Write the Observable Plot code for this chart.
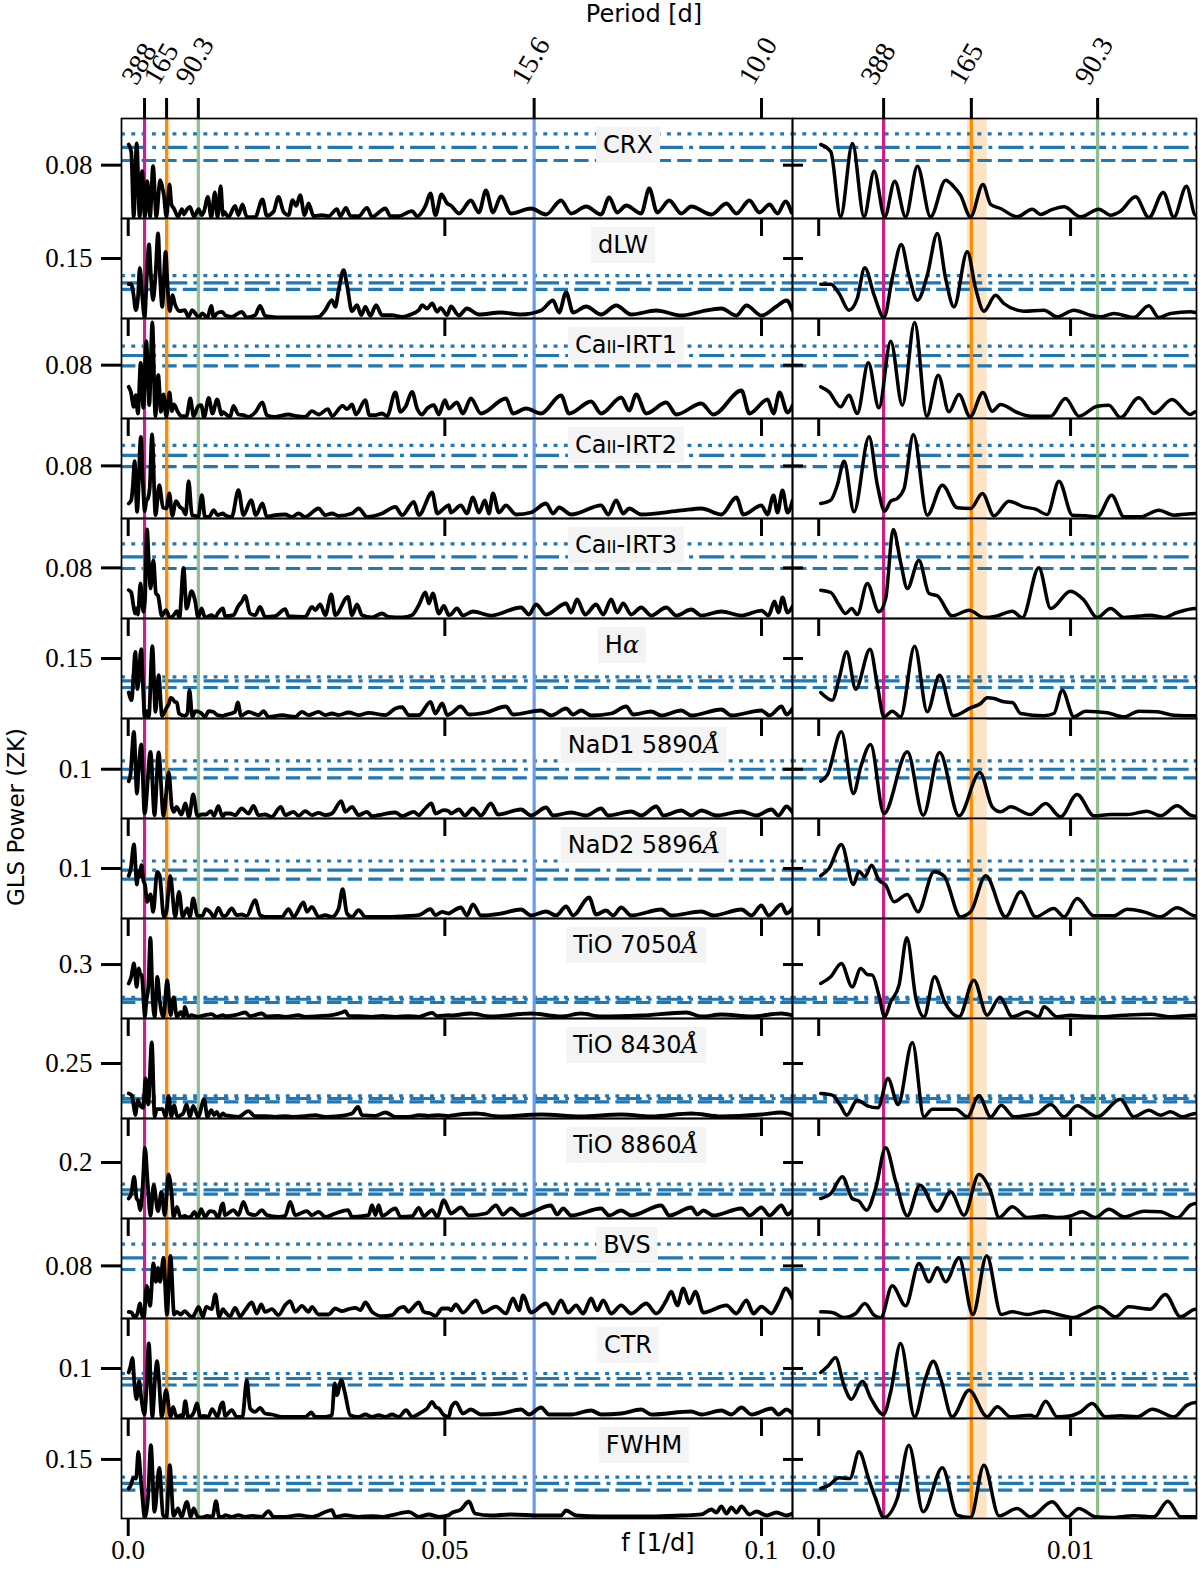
<!DOCTYPE html>
<html><head><meta charset="utf-8">
<script src="https://cdn.jsdelivr.net/npm/d3@7"></script>
<script src="https://cdn.jsdelivr.net/npm/@observablehq/plot@0.6"></script>
<style>
body{margin:0;background:#fff;}
#fig{position:relative;width:1200px;height:1570px;overflow:hidden;font-family:"DejaVu Sans",sans-serif;color:#000;}
#fig svg{position:absolute;overflow:visible;}
.lbl{position:absolute;background:#f4f4f4;height:36px;line-height:36px;padding:0 7px;font-size:24px;white-space:nowrap;transform:translateX(-50%);}
.sc{font-size:17px;}
.mi{font-family:"DejaVu Serif",serif;font-style:italic;}
.ax{position:absolute;font-size:24px;white-space:nowrap;}
</style></head><body><div id="fig"></div>
<script>
// ---------------- data: frequency [1/d] and GLS power per indicator ----------------
const crxF=[0.00008,0.00048,0.00087,0.00134,0.0018,0.0022,0.00262,0.00302,0.00345,0.00392,0.00444,0.00504,0.00537,0.00563,0.00603,0.00652,0.00683,0.00722,0.00788,0.00848,0.00881,0.00921,0.00974,0.0104,0.01112,0.01159,0.01198,0.01258,0.01311,0.01368,0.0141,0.0146,0.01496,
0.01519,0.01582,0.01688,0.0174,0.01804,0.01872,0.02004,0.0212,0.02189,0.02294,0.02373,0.02453,0.02532,0.02595,0.02653,0.02716,0.02785,0.02848,0.02927,0.03059,0.03165,0.03296,0.03349,0.03439,0.03507,0.03639,0.03771,0.0385,0.04061,0.0414,0.04272,0.04483,0.04562,0.04694,0.04773,0.04852,0.04947,0.05037,
0.05095,0.05222,0.05411,0.05538,0.05649,0.0576,0.05886,0.06044,0.06361,0.06598,0.06835,0.06994,0.07231,0.07468,0.07595,0.07722,0.07864,0.08101,0.08228,0.08354,0.08544,0.08734,0.08892,0.09209,0.09446,0.09604,0.0981,0.09968,0.10127,0.10253,0.1038,0.10475];
const crxP=[0.111,0.100,0.0025,0.1125,0.0025,0.071,0.0025,0.056,0.0025,0.0785,0.0025,0.0575,0.0475,0.035,0.0025,0.051,0.021,0.015,0.0025,0.014,0.006,0.0125,0.0175,0.0025,0.014,0.005,0.011,0.0325,0.0015,0.039,0.002,0.0485,0.005,
0.01,0.002,0.019,0.005,0.021,0.0025,0.002,0.0285,0.004,0.01,0.0325,0.01,0.005,0.0275,0.019,0.035,0.005,0.0225,0.0035,0.005,0.0035,0.014,0.0035,0.016,0.004,0.0035,0.016,0.0025,0.015,0.0035,0.0035,0.011,0.0035,0.019,0.0375,0.005,0.036,0.0225,
0.0195,0.0075,0.027,0.009,0.042,0.009,0.033,0.0075,0.015,0.006,0.027,0.0075,0.018,0.006,0.0315,0.009,0.0195,0.0075,0.045,0.009,0.027,0.0075,0.018,0.006,0.0225,0.0075,0.027,0.009,0.021,0.0075,0.0255,0.009];

const dlwF=[.00008,.00048,.00081,.0012,.00153,.00183,.0022,.00259,.00292,.00328,.00358,.00392,.00431,.00471,.00504,.00537,.0059,.00623,.00656,.00702,.00735,.00788,.00815,.00894,.00947,.01013,.01079,.01119,.01172,.01251,.01311,.0135,.01397,.01476,.01496,
.0153,.01635,.01793,.01872,.02004,.02083,.02162,.02268,.02373,.02584,.02795,.03006,.03112,.03217,.0327,.03323,.03402,.03455,.03534,.03613,.03681,.03745,.03824,.03914,.04008,.04167,.04325,.0443,.04589,.04641,.0472,.048,.04879,.04931,.05037,
.05095,.05222,.05348,.05538,.05886,.06203,.06519,.06709,.06804,.06915,.07025,.07231,.07468,.07706,.07943,.08339,.08734,.09051,.09367,.09604,.09763,.1,.10237,.10396,.10491];
const dlwP=[.0858,.0858,.0625,.0208,.05,.1267,.0583,.0025,.1,.185,.108,.0458,.108,.2125,.1,.029,.1667,.075,.0183,.0583,.0375,.0208,.0183,.0208,.0042,.0208,.0083,.0042,.0125,.0025,.0317,.0025,.0125,.0167,.015,
.0083,.0042,.0167,.0025,.0083,.0317,.0067,.0042,.0025,.0025,.0025,.0042,.0208,.0458,.0292,.0708,.1208,.0833,.0183,.0333,.0083,.0292,.0067,.0333,.0083,.0083,.0042,.0083,.0208,.0333,.025,.0375,.0167,.0267,.0083,
.03,.0075,.025,.01,.015,.01,.02,.045,.015,.065,.015,.03,.01,.0325,.01,.02,.0075,.0175,.025,.0075,.0325,.0075,.03,.045,.02];

const irt1F=[.00008,.00041,.00087,.0012,.00153,.00197,.00239,.00286,.00332,.00381,.00429,.00475,.00517,.00557,.00601,.00652,.00689,.00722,.00788,.00841,.00921,.0098,.01033,.01106,.01152,.01198,.01271,.01331,.01403,.01476,.01496,
.0153,.01609,.01661,.0174,.0182,.01899,.02004,.0212,.02189,.02321,.02532,.02637,.02795,.02901,.03006,.03154,.03217,.03386,.03455,.03534,.03597,.03745,.03808,.03903,.04008,.04087,.04219,.04299,.04378,.04483,.04562,.04641,.0472,.04826,.04905,.05,.05063,
.0519,.05285,.05411,.0557,.05965,.06076,.06282,.06519,.06835,.06962,.0731,.07468,.07785,.07911,.08022,.0818,.08497,.08655,.09051,.09241,.09684,.0981,.10095,.1019,.10285,.10411,.10491];
const irt1P=[.0475,.04,.0175,.035,.0075,.0835,.016,.116,.02,.144,.0035,.065,.01,.036,.0025,.039,.011,.021,.009,.0035,.0035,.03,.0035,.0185,.02,.0015,.031,.0075,.0285,.006,.01,
.0075,.0025,.019,.006,.005,.0025,.009,.024,.005,.0025,.006,.004,.0025,.011,.006,.014,.0035,.019,.014,.021,.006,.0275,.005,.005,.0075,.0035,.039,.01,.0175,.04,.015,.006,.015,.02,.006,.0275,.015,
.024,.0075,.03,.0075,.03,.0075,.015,.0075,.0345,.0075,.0255,.0075,.0315,.012,.036,.0075,.024,.006,.0225,.006,.042,.0075,.0285,.0075,.039,.009,.0195];

const irt2F=[.00008,.00048,.00074,.00101,.0014,.002,.00233,.00262,.00286,.00312,.00339,.00376,.00431,.00491,.0055,.00603,.0065,.00696,.00755,.00815,.00861,.00907,.00954,.01007,.0106,.01106,.01163,.01212,.01278,.0135,.0141,.01496,
.0153,.01635,.0174,.0182,.01941,.02015,.0212,.02189,.02321,.02479,.02584,.0269,.02795,.03006,.03112,.03217,.03323,.03534,.03639,.03771,.04008,.04219,.04325,.0451,.04589,.048,.04879,.04984,.05063,
.05095,.05253,.05348,.05443,.05538,.05633,.05696,.0576,.05854,.05965,.06123,.06361,.06598,.06709,.06804,.06994,.07468,.07579,.07706,.07816,.07911,.08101,.08734,.09051,.09367,.09604,.09715,.1,.10095,.1019,.10253,.10332,.10411,.10491];
const irt2P=[.0228,.0279,.0507,.0872,.0101,.1242,.0507,.0112,.0264,.0304,.0456,.1278,.0051,.0507,.0162,.0152,.038,.0041,.0264,.0177,.0142,.0061,.0568,.0051,.0041,.0025,.0355,.0025,.0025,.0127,.0051,.0076,
.0051,.0025,.0431,.0051,.0279,.0051,.0228,.0025,.0051,.0061,.0025,.0076,.0025,.0152,.0051,.0076,.0041,.0076,.0152,.0025,.0076,.0177,.0051,.0254,.0051,.0395,.0076,.0152,.0203,
.0091,.0198,.0076,.0319,.0091,.0274,.0076,.038,.0091,.0198,.0061,.0091,.0228,.0076,.0167,.0061,.0198,.0061,.0274,.0076,.0152,.0061,.0122,.0152,.0061,.0319,.0061,.0198,.0061,.035,.0091,.0426,.0091,.0274];

const irt3F=[.00008,.00048,.00081,.00107,.00131,.00153,.00193,.00239,.00266,.00296,.00325,.00352,.00398,.00438,.00471,.0053,.00597,.00656,.00709,.00769,.00808,.00874,.00921,.01,.01053,.01106,.01159,.01212,.01317,.0137,.01423,.01496,
.0153,.01661,.0174,.01793,.01846,.01925,.02004,.02083,.02162,.02321,.02479,.02532,.02795,.02901,.02954,.03033,.03112,.03207,.0327,.0347,.03534,.03613,.03692,.0385,.04008,.04114,.04325,.04483,.04589,.04694,.04747,.0481,.04905,.04984,.05063,
.05095,.0519,.05285,.05443,.05728,.06203,.06329,.0644,.06598,.06915,.06994,.07089,.07215,.07389,.075,.07627,.07722,.07816,.07943,.08101,.0826,.08497,.08655,.08892,.09051,.09367,.09684,.1,.10111,.10206,.10269,.10332,.10411,.10491];
const irt3P=[.0448,.0411,.0211,.0079,.0158,.0063,.0553,.0105,.0316,.1407,.0896,.0474,.0922,.0395,.0358,.0042,.0132,.0016,.0042,.0116,.0011,.0801,.0158,.0432,.029,.0016,.0158,.0016,.0053,.0016,.0095,.0158,
.0037,.0053,.02,.0264,.0358,.0079,.0053,.0184,.0026,.0037,.0148,.0037,.0026,.0184,.0132,.0221,.0053,.0379,.0053,.0343,.0053,.0221,.0053,.0016,.0079,.0026,.0016,.0053,.0211,.0411,.0237,.0395,.0079,.02,.0053,
.0063,.0158,.0047,.0111,.0047,.0174,.0063,.0221,.0063,.0237,.0095,.03,.0063,.0221,.0063,.03,.0095,.0237,.0063,.0174,.0047,.0174,.0047,.0142,.0047,.0111,.0047,.0126,.0047,.0269,.0095,.0332,.0095,.019];

const haF=[.00008,.00054,.00081,.00111,.00147,.00204,.00233,.00259,.00292,.00325,.00381,.00431,.0048,.00534,.00603,.00643,.00669,.00696,.00735,.00769,.00802,.00894,.00934,.00967,.01013,.0106,.01146,.01212,.01271,.01344,.0141,.01496,
.0153,.01688,.0173,.01783,.01899,.02057,.02136,.02215,.02426,.02637,.02743,.02848,.03006,.03112,.03217,.03323,.03481,.03639,.03797,.04061,.04219,.04325,.0443,.04589,.04773,.04852,.04958,.05037,
.05095,.05253,.0538,.05649,.05965,.06076,.06519,.06677,.06915,.07025,.07152,.0731,.07627,.07864,.07975,.0826,.08418,.08734,.08892,.09367,.09525,.1,.10127,.10316,.10396,.10491];
const haP=[.065,.0458,.1,.1667,.0733,.1733,.0833,.0042,.0183,.0042,.1808,.0167,.1083,.0067,.0267,.0375,.0517,.05,.0417,.04,.0125,.0067,.0125,.0708,.0042,.0183,.0142,.0042,.0183,.0167,.0083,.0067,
.0083,.0167,.04,.0067,.0167,.0083,.0183,.0042,.0083,.0042,.0167,.0083,.0167,.0083,.0125,.0083,.015,.0083,.0142,.0083,.025,.0283,.0083,.0083,.0417,.0125,.0375,.0083,
.0125,.03,.01,.015,.03,.01,.02,.0075,.025,.01,.02,.0075,.0125,.03,.01,.0175,.0075,.02,.0075,.0225,.0075,.02,.0075,.03,.01,.025];

const nad1F=[.00008,.00034,.0009,.00138,.00167,.00206,.00259,.00352,.00415,.0048,.00557,.0064,.00689,.00722,.00762,.00841,.00901,.0096,.01026,.01093,.01159,.01225,.01304,.01357,.01423,.01476,.01496,
.0153,.01609,.01688,.01793,.01899,.01978,.02057,.02162,.02268,.0241,.02479,.02611,.0269,.02795,.02901,.03006,.03112,.03217,.03365,.03428,.03534,.03639,.03771,.0385,.04008,.04219,.04325,.0451,.04589,.04668,.04789,.04852,.04984,.05063,
.05095,.05222,.05316,.05443,.0557,.05728,.05839,.06203,.06361,.06598,.06709,.06994,.07231,.07468,.07579,.07943,.08101,.08339,.0845,.08734,.08892,.09051,.09288,.09684,.09921,.10158,.10269,.10396,.10491];
const nad1P=[.0758,.088,.176,.0508,.1049,.1503,.0102,.1354,.0068,.134,.0054,.0934,.0237,.0135,.0237,.0081,.0305,.0034,.0487,.0054,.0081,.0081,.0149,.0054,.0257,.0068,.0047,
.0102,.0102,.0068,.0203,.0102,.0257,.0068,.0081,.0034,.0237,.0068,.0135,.0054,.0149,.0068,.0115,.0068,.0102,.0352,.0135,.0237,.0068,.0135,.0047,.0081,.0122,.0047,.0135,.0068,.0169,.0305,.0102,.0169,.0149,
.0102,.0183,.0061,.0203,.0061,.0305,.0081,.0183,.0061,.0223,.0061,.0122,.0061,.0203,.0061,.0142,.0061,.0244,.0061,.0162,.0061,.0162,.0061,.0142,.0061,.0183,.0061,.0244,.0122];

const nad2F=[.00008,.00041,.0009,.00138,.0016,.00183,.0021,.00239,.00266,.00299,.00352,.00394,.00458,.00497,.00563,.00603,.00663,.00742,.00802,.00861,.00934,.00974,.01026,.01093,.01172,.01225,.01291,.01357,.01423,.01496,
.0153,.01635,.01714,.01793,.01872,.02004,.02083,.02162,.02321,.02426,.02532,.02611,.02769,.02822,.02901,.03006,.03112,.03217,.03323,.03386,.03455,.03534,.03639,.03745,.03956,.04167,.04378,.04589,.04773,.04852,.04958,.05063,
.05095,.05253,.05348,.05443,.0557,.05886,.06203,.06361,.06598,.06756,.06915,.07025,.07278,.07389,.07547,.07658,.07785,.07943,.08418,.08576,.09051,.09241,.09684,.09842,.1,.10111,.10316,.10396,.10491];
const nad2P=[.0854,.1,.148,.068,.0947,.0834,.1067,.0767,.0667,.0334,.048,.0133,.0934,.0854,.0033,.0133,.0854,.0033,.0534,.0033,.02,.0033,.04,.0053,.0053,.0187,.0133,.0033,.0213,.0053,
.0053,.02,.0067,.008,.0053,.0367,.0067,.0033,.0033,.0033,.0187,.0033,.032,.0133,.0234,.0033,.0067,.0033,.02,.0587,.01,.0033,.0167,.0033,.0033,.0033,.0047,.0067,.0187,.0067,.0133,.01,
.012,.022,.006,.028,.006,.01,.018,.006,.014,.006,.024,.006,.042,.008,.016,.006,.022,.006,.018,.006,.014,.006,.018,.006,.026,.006,.028,.01,.02];

const tio7050F=[.00008,.00048,.0009,.00133,.00167,.00193,.00213,.00239,.00262,.00286,.00319,.0035,.00386,.00418,.0046,.005,.00557,.00616,.00669,.00719,.00769,.00828,.00874,.00894,.00947,.01,.01053,.01106,.01212,.01317,.01397,.01496,
.0153,.01688,.01846,.01925,.0211,.02189,.02373,.02479,.0269,.02795,.03006,.03217,.03376,.03428,.03481,.03639,.0385,.04008,.04219,.0443,.04589,.048,.04879,.05063,
.05095,.05411,.05728,.06361,.06835,.07152,.07468,.08101,.08813,.09051,.09367,.09842,.10316,.10491];
const tio7050P=[.1946,.2316,.3057,.176,.278,.2446,.2409,.1297,.0093,.0927,.1853,.4484,.1112,.0093,.2316,.0927,.0093,.2131,.0185,.1167,.0093,.0371,.0093,.0649,.0093,.0185,.013,.0093,.0185,.0241,.0093,.0185,
.013,.0185,.0334,.013,.0278,.0111,.0148,.0093,.0185,.0093,.013,.0185,.0334,.0408,.0148,.013,.0093,.0148,.0093,.013,.0093,.0315,.013,.0185,
.0167,.0278,.0111,.0278,.0111,.0278,.0111,.0167,.0334,.0111,.0222,.0111,.0278,.0167];

const tio8430F=[.00008,.00054,.00087,.00111,.00153,.00193,.00235,.00275,.00315,.00372,.00418,.00451,.00511,.00544,.0059,.00636,.00683,.00725,.00775,.00828,.00868,.00921,.00974,.01026,.01106,.01198,.01251,.01311,.01357,.01397,.01443,.01496,
.0153,.01635,.0174,.01899,.02004,.02162,.02321,.02479,.02584,.02795,.02954,.03112,.03323,.03534,.03629,.03692,.03903,.04061,.04219,.0443,.04589,.04747,.04905,.05063,
.05095,.05491,.05886,.06519,.07152,.07785,.0826,.08892,.09367,.1,.10316,.10491];
const tio8430P=[.1136,.1061,.0576,.0152,.0833,.0576,.0485,.1818,.0636,.3454,.0076,.0424,.0424,.0424,.0076,.103,.0076,.0606,.0076,.0152,.0227,.0636,.0076,.0576,.0076,.0879,.0076,.0379,.0152,.0303,.0076,.0227,
.0152,.0106,.0076,.0333,.0106,.0106,.0076,.0106,.0076,.0106,.0152,.0076,.0106,.0227,.053,.0152,.0121,.0273,.0076,.0076,.0152,.0121,.0152,.0106,
.0136,.0227,.0091,.0182,.0091,.0182,.0091,.0227,.0091,.0182,.0273,.0136];

const tio8860F=[.00008,.00048,.00094,.00133,.0016,.0019,.00226,.00266,.00306,.00352,.00402,.00471,.00524,.00577,.00636,.00683,.00716,.00769,.00828,.00894,.00947,.01,.01046,.01099,.01152,.01212,.01291,.01357,.01423,.01476,.01496,
.0153,.01661,.0174,.01819,.01899,.02004,.0211,.02189,.02373,.02479,.02558,.02637,.02822,.02901,.03006,.03112,.0327,.0347,.03534,.03797,.0385,.03903,.03956,.04008,.04219,.04299,.04483,.04589,.04668,.048,.04879,.04984,.05063,
.05095,.05253,.0538,.05649,.05807,.05918,.06044,.06203,.06677,.06772,.06867,.06994,.07468,.07595,.07785,.07943,.08418,.08544,.08892,.08987,.09082,.0924,.09684,.0981,.1,.10127,.10316,.10411,.10491];
const tio8860P=[.0714,.0893,.1488,.0714,.0619,.0298,.1071,.2523,.1309,.0095,.119,.0262,.0952,.0119,.1571,.0952,.0036,.0417,.0036,.0095,.0036,.0095,.0238,.0036,.0333,.006,.0262,.0238,.0024,.0476,.0536,
.0119,.0298,.0119,.0595,.0179,.0119,.0298,.0119,.006,.0095,.0595,.0119,.0262,.0119,.0238,.006,.0179,.0298,.006,.0119,.0476,.0119,.0476,.0095,.0357,.006,.0083,.0381,.0083,.0298,.006,.0655,.0298,
.0179,.0393,.0107,.0179,.0464,.0143,.0357,.0107,.0464,.0143,.0357,.0107,.0357,.0107,.0286,.0107,.0464,.0107,.0393,.0143,.0286,.0107,.0357,.0107,.0393,.0107,.0464,.0143,.0286];

const bvsF=[.00008,.00054,.001,.00147,.00183,.0022,.00246,.00292,.00345,.00398,.00438,.00471,.00504,.00557,.00612,.00667,.00725,.00769,.00828,.00894,.0096,.01013,.01053,.01112,.01179,.01231,.01317,.01376,.01437,.01496,
.0153,.01609,.01688,.01767,.01846,.01952,.02031,.021,.02162,.02268,.02373,.02479,.02558,.02637,.02743,.02848,.02901,.03006,.03165,.0327,.03376,.03481,.03586,.03666,.03745,.0385,.04008,.04167,.04272,.04351,.0443,.04483,.04589,.04668,.04773,.04852,.04958,.05063,
.05095,.05174,.05285,.05491,.05601,.05807,.05965,.06076,.06171,.06234,.06361,.06598,.06709,.06835,.06946,.07073,.07184,.0731,.07405,.075,.07627,.07785,.07943,.0818,.08339,.08497,.08576,.08671,.08766,.08861,.08956,.09082,.09446,.09604,.09763,.09873,.1,.10158,.10285,.1038,.10491];
const bvsP=[.0101,.0091,.0015,.0076,.0228,.0051,.001,.0497,.0193,.0837,.0558,.0771,.0558,.0923,.0061,.0953,.0061,.0101,.0061,.0112,.0051,.0015,.0076,.0177,.0025,.0177,.0142,.0365,.0025,.0142,
.0101,.0035,.0162,.0035,.0127,.0243,.0076,.0213,.0101,.0142,.0051,.0203,.0264,.0101,.0193,.0101,.0177,.0061,.0061,.0152,.0112,.0142,.0162,.0127,.0243,.0101,.0035,.0051,.0152,.0177,.0101,.0152,.0243,.0101,.0076,.0041,.0152,.0152,
.0122,.0213,.0091,.0274,.0091,.0182,.0076,.0304,.0122,.035,.0091,.0228,.0076,.0274,.0091,.0198,.0076,.0304,.0122,.0274,.0076,.0198,.0076,.0228,.0076,.0274,.041,.0198,.0456,.0228,.041,.0091,.0198,.0076,.0274,.0076,.0182,.0076,.0274,.0456,.0304];

const ctrF=[.00008,.00034,.00067,.001,.0013,.00173,.00206,.00257,.00286,.00325,.00381,.00424,.00455,.00484,.0053,.00597,.00669,.00709,.00762,.00841,.00861,.00901,.00947,.01,.0104,.01086,.01139,.01198,.01265,.01325,.01411,.01463,.01496,
.0153,.01635,.01714,.01804,.01872,.01925,.02004,.02083,.02162,.02268,.02426,.02637,.02795,.02891,.02954,.03112,.03217,.03259,.03296,.03365,.03418,.03507,.03639,.03745,.0385,.03956,.04061,.04167,.04272,.04388,.04483,.04641,.0472,.048,.04852,.04905,.04984,.05063,
.05095,.05174,.05285,.05411,.0557,.05886,.06203,.06329,.06519,.06646,.06994,.0731,.07468,.07785,.08101,.0826,.08892,.09051,.09367,.09525,.09684,.09842,.10158,.10269,.10396,.10491];
const ctrP=[.092,.1034,.1214,.0667,.0387,.0747,.0414,.008,.0534,.1501,.0033,.08,.1147,.08,.0033,.0567,.0033,.0233,.0033,.0067,.0033,.0347,.0033,.0053,.0133,.03,.0033,.0053,.0033,.0187,.0033,.0267,.032,
.0053,.0167,.0033,.0033,.0767,.02,.0133,.0213,.01,.008,.0033,.0033,.0033,.012,.0033,.0033,.0067,.0701,.0467,.0767,.0534,.0067,.0033,.008,.0033,.0067,.0033,.008,.0033,.0167,.0033,.0133,.02,.0334,.0234,.02,.0067,.0033,
.02,.032,.01,.018,.008,.01,.018,.008,.022,.008,.008,.016,.008,.01,.018,.008,.014,.008,.016,.008,.022,.008,.02,.008,.018,.01];

const fwhmF=[.00008,.00041,.00081,.00124,.0016,.002,.00226,.00259,.00312,.00358,.00415,.00491,.0055,.00603,.00656,.00716,.00788,.00841,.00927,.00987,.01033,.01099,.01159,.01251,.01331,.01386,.01437,.01496,
.0153,.01635,.0174,.01846,.01952,.0211,.02215,.02294,.02479,.0269,.02901,.03217,.0327,.03428,.03639,.0385,.04008,.04167,.0443,.04589,.04747,.04905,.05063,
.05095,.05253,.0538,.05475,.05728,.06044,.06519,.06835,.06915,.07073,.07468,.0826,.08734,.09051,.09209,.09288,.09367,.09446,.09525,.09604,.09684,.0981,.09921,.10079,.10237,.10396,.10491];
const fwhmP=[.0762,.0847,.1033,.1016,.1694,.0974,.0508,.0025,.0508,.1863,.0169,.1287,.0085,.0025,.1355,.0068,.0254,.0042,.0424,.0042,.0254,.0042,.0025,.0068,.0042,.044,.0042,.0042,
.0085,.0042,.0085,.0042,.0068,.0042,.0186,.0042,.0042,.0085,.0042,.0212,.0042,.0085,.0042,.0059,.0042,.0085,.0169,.0042,.0102,.0042,.0085,
.0127,.0229,.0432,.0127,.0076,.0102,.0076,.0076,.0203,.0076,.0051,.0051,.0076,.0102,.0229,.0152,.0305,.0127,.0279,.0152,.0305,.0102,.0178,.0076,.0152,.0076,.0127];

const rowNames=["CRX","dLW","Ca<span class='sc'>II</span>-IRT1","Ca<span class='sc'>II</span>-IRT2","Ca<span class='sc'>II</span>-IRT3",
 "H<span class='mi'>α</span>","NaD1 5890<span class='mi'>Å</span>","NaD2 5896<span class='mi'>Å</span>",
 "TiO 7050<span class='mi'>Å</span>","TiO 8430<span class='mi'>Å</span>","TiO 8860<span class='mi'>Å</span>","BVS","CTR","FWHM"];
const rowLabelX=[628,623,626,626,626,622,644,644,636,636,636,627,628,644];
const rowF=[crxF,dlwF,irt1F,irt2F,irt3F,haF,nad1F,nad2F,tio7050F,tio8430F,tio8860F,bvsF,ctrF,fwhmF];
const rowP=[crxP,dlwP,irt1P,irt2P,irt3P,haP,nad1P,nad2P,tio7050P,tio8430P,tio8860P,bvsP,ctrP,fwhmP];
const yMax=[0.150,0.25,0.150,0.152,0.158,0.25,0.203,0.2,0.556,0.4545,0.357,0.152,0.2,0.254];
const yTick=[0.08,0.15,0.08,0.08,0.08,0.15,0.1,0.1,0.3,0.25,0.2,0.08,0.1,0.15];
const yTickLabel=["0.08","0.15","0.08","0.08","0.08","0.15","0.1","0.1","0.3","0.25","0.2","0.08","0.1","0.15"];
const fapDotted=[0.127,0.107,0.1085,0.111,0.118,0.104,0.117,0.115,0.118,0.103,0.1225,0.113,0.09,0.105];
const fapDashDot=[0.1066,0.089,0.0945,0.096,0.0975,0.094,0.100,0.0967,0.107,0.091,0.1025,0.092,0.08,0.089];
const fapDashed=[0.087,0.073,0.079,0.079,0.079,0.0775,0.0825,0.0787,0.089,0.076,0.087,0.0745,0.067,0.072];
const periodLines=[388,165,90.3,15.6];
const periodColors=["#cc1f8c","#ff8c00","#8fbf8d","#6a9bef"];
const topPeriodsL=[388,165,90.3,15.6,10.0];
const topLabelsL=["388","165","90.3","15.6","10.0"];
const topPeriodsR=[388,165,90.3];
const topLabelsR=["388","165","90.3"];
const bandF=[0.0059,0.00669];
const xTicksL=[0,0.05,0.1], xLabelsL=["0.0","0.05","0.1"];
const xTicksR=[0,0.01], xLabelsR=["0.0","0.01"];

// ---------------- drawing ----------------
const fig=document.getElementById("fig");
const SERIF="'Liberation Serif','DejaVu Serif',serif";
const BLUE="#1f77b4";
const ROW_TOP=118, ROW_H=100;

function panel(i, side){
  const L = side==="L";
  const W = L?671:404;
  const n = Math.min(rowF[i].length,rowP[i].length);
  const data = d3.range(n).map(j=>({f:rowF[i][j],p:rowP[i][j]}));
  const vl = (L?periodLines:periodLines.slice(0,3)).map((P,k)=>({f:1/P,c:periodColors[k]}));
  const xt = (L?xTicksL:xTicksR).map((f,k)=>({f,t:(L?xLabelsL:xLabelsR)[k]}));
  const marks=[
    Plot.rect([{a:bandF[0],b:bandF[1]}],{x1:"a",x2:"b",fill:"#fde4c6",clip:true}),
    Plot.ruleY([fapDotted[i]],{y:d=>d,stroke:BLUE,strokeWidth:3.2,strokeDasharray:"3.9,6.4"}),
    Plot.ruleY([fapDashDot[i]],{y:d=>d,stroke:BLUE,strokeWidth:3.2,strokeDasharray:"25,6.2,3.9,6.2"}),
    Plot.ruleY([fapDashed[i]],{y:d=>d,stroke:BLUE,strokeWidth:3.2,strokeDasharray:"14.4,6.2"}),
    Plot.ruleX(vl,{x:"f",stroke:"c",strokeWidth:3.2,clip:true}),
    Plot.line(data,{x:"f",y:"p",stroke:"black",strokeWidth:L?3.8:3.5,curve:"monotone-x",clip:true,strokeLinejoin:"round"}),
    Plot.frame({stroke:"black",strokeWidth:1.7}),
    Plot.ruleX(xt,{x:"f",insetTop:ROW_H,insetBottom:-18,stroke:"black",strokeWidth:3}),
    Plot.ruleY([{v:yTick[i]}],{y:"v",insetLeft:L?-20:-9,insetRight:L?W:W-11,stroke:"black",strokeWidth:3})
  ];
  if(L) marks.push(Plot.text([{v:yTick[i],t:yTickLabel[i]}],{y:"v",text:"t",frameAnchor:"left",dx:-29,textAnchor:"end",fontSize:27,fontFamily:SERIF,fill:"black"}));
  if(i===0){
    const tp=(L?topPeriodsL:topPeriodsR).map((P,k)=>({f:1/P,t:(L?topLabelsL:topLabelsR)[k]}));
    marks.push(Plot.ruleX(tp,{x:"f",insetTop:-20,insetBottom:ROW_H,stroke:"black",strokeWidth:3}));
    marks.push(Plot.text(tp,{x:"f",text:"t",frameAnchor:"top",dy:-32,dx:-8,rotate:-60,textAnchor:"start",lineAnchor:"bottom",fontSize:28,fontFamily:SERIF,fill:"black"}));
  }
  if(i===13){
    marks.push(Plot.text(xt,{x:"f",text:"t",frameAnchor:"bottom",dy:40,fontSize:27,fontFamily:SERIF,fill:"black"}));
  }
  const svg=Plot.plot({
    width:W,height:ROW_H,margin:0,
    x:{domain:L?[-0.00106,0.1049]:[-0.00104,0.0150],axis:null},
    y:{domain:[0,yMax[i]],axis:null},
    color:{type:"identity"},
    style:{background:"none",overflow:"visible"},
    marks
  });
  svg.style.position="absolute";
  svg.style.left=(L?121:792)+"px";
  svg.style.top=(ROW_TOP+i*ROW_H)+"px";
  svg.style.maxWidth="none";
  fig.appendChild(svg);
}

for(let i=0;i<14;i++){ panel(i,"L"); panel(i,"R"); }

rowNames.forEach((nm,i)=>{
  const d=document.createElement("div");
  d.className="lbl";
  d.innerHTML=nm;
  d.style.left=rowLabelX[i]+"px";
  d.style.top=(ROW_TOP+i*ROW_H+9)+"px";
  fig.appendChild(d);
});

function axText(txt,css){const d=document.createElement("div");d.className="ax";d.textContent=txt;Object.assign(d.style,css);fig.appendChild(d);return d;}
axText("Period [d]",{left:"644px",top:"0px",transform:"translateX(-50%)"});
axText("f [1/d]",{left:"658px",top:"1529px",transform:"translateX(-50%)"});
axText("GLS Power (ZK)",{left:"16px",top:"817px",fontSize:"23px",transform:"translate(-50%,-50%) rotate(-90deg)"});
</script></body></html>
